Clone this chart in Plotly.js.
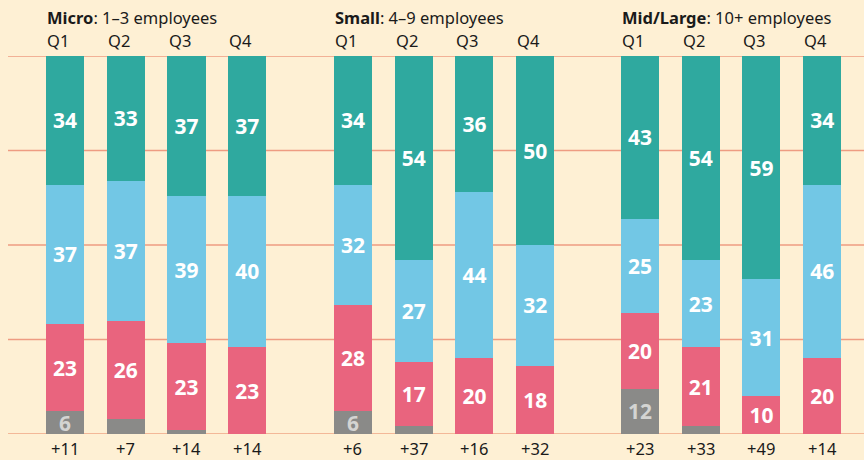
<!DOCTYPE html>
<html>
<head>
<meta charset="utf-8">
<script src="https://cdn.plot.ly/plotly-3.0.1.min.js"></script>
<style>
html,body{margin:0;padding:0;background:#fef0d4;}
#chart{width:864px;height:460px;}
</style>
</head>
<body>
<div id="chart"></div>
<script>
var quarters = ["Q1", "Q2", "Q3", "Q4"];
var groupNames = ["Micro", "Small", "Mid/Large"];
var groupSubtitles = ["1–3 employees", "4–9 employees", "10+ employees"];

// shares of firms, % (bottom to top)
var greyVals = [[6, 4, 1, 0], [6, 2, 0, 0], [12, 2, 0, 0]];
var redVals  = [[23, 26, 23, 23], [28, 17, 20, 18], [20, 21, 10, 20]];
var blueVals = [[37, 37, 39, 40], [32, 27, 44, 32], [25, 23, 31, 46]];
var tealVals = [[34, 33, 37, 37], [34, 54, 36, 50], [43, 54, 59, 34]];
var netBalance = [["+11", "+7", "+14", "+14"], ["+6", "+37", "+16", "+32"], ["+23", "+33", "+49", "+14"]];

var colors = {grey: "#8a8a88", red: "#e9647e", blue: "#72c7e5", teal: "#2fa99f"};
var FONT = "Noto Sans, Open Sans, sans-serif";
var domains = [[0.0311, 0.315], [0.3675, 0.6514], [0.7028, 0.9867]];

var traces = [];
var series = [
  {vals: greyVals, color: colors.grey, txt: "#d4d4d2", min: 5},
  {vals: redVals, color: colors.red, txt: "#ffffff", min: 5},
  {vals: blueVals, color: colors.blue, txt: "#ffffff", min: 5},
  {vals: tealVals, color: colors.teal, txt: "#ffffff", min: 5}
];
for (var g = 0; g < 3; g++) {
  var xa = g === 0 ? "x" : "x" + (g + 1);
  series.forEach(function (s) {
    traces.push({
      type: "bar",
      x: quarters,
      y: s.vals[g],
      xaxis: xa,
      yaxis: "y",
      marker: {color: s.color, line: {width: 0}},
      text: s.vals[g].map(function (v) { return v >= s.min ? String(v) : ""; }),
      textposition: "inside",
      insidetextanchor: "middle",
      constraintext: "none",
      textangle: 0,
      textfont: {family: FONT, size: 21, color: s.txt, weight: 700},
      hoverinfo: "skip",
      showlegend: false
    });
  });
}

var layout = {
  width: 864, height: 460,
  paper_bgcolor: "#fef0d4", plot_bgcolor: "rgba(0,0,0,0)",
  margin: {l: 8, r: 0, t: 56, b: 26},
  barmode: "stack",
  bargap: 0.374,
  showlegend: false,
  yaxis: {range: [0, 100], showgrid: false, zeroline: false, showticklabels: false, fixedrange: true},
  shapes: [],
  annotations: [],
  font: {family: FONT}
};
for (var g = 0; g < 3; g++) {
  var key = g === 0 ? "xaxis" : "xaxis" + (g + 1);
  layout[key] = {domain: domains[g], anchor: "y", type: "category", range: [-0.5, 3.5],
    showgrid: false, zeroline: false, showticklabels: false, showline: false, ticks: ""};
}
[25, 50, 75, 100].forEach(function (v) {
  layout.shapes.push({type: "line", xref: "paper", yref: "y", x0: 0, x1: 1, y0: v, y1: v,
    line: {color: "#ee9c82", width: 1.3}, layer: "below"});
});
layout.shapes.push({type: "line", xref: "paper", yref: "y", x0: 0, x1: 1, y0: 0, y1: 0,
  line: {color: "#f3b898", width: 2}, layer: "below"});

for (var g = 0; g < 3; g++) {
  var xr = g === 0 ? "x" : "x" + (g + 1);
  layout.annotations.push({
    xref: xr, yref: "paper", x: quarters[0], y: 1, xanchor: "left", yanchor: "middle",
    xshift: -20, yshift: 39, showarrow: false,
    text: "<b>" + groupNames[g] + "</b>: " + groupSubtitles[g],
    font: {family: FONT, size: 16.5, color: "#1a1a1a"}
  });
  quarters.forEach(function (q, i) {
    layout.annotations.push({
      xref: xr, yref: "paper", x: q, y: 1, xanchor: "left", yanchor: "middle",
      xshift: -20, yshift: 16, showarrow: false, text: q,
      font: {family: FONT, size: 16.5, color: "#1a1a1a"}
    });
    layout.annotations.push({
      xref: xr, yref: "paper", x: q, y: 0, xanchor: "center", yanchor: "middle",
      yshift: -14, showarrow: false, text: netBalance[g][i],
      font: {family: FONT, size: 16.5, color: "#1a1a1a"}
    });
  });
}

Plotly.newPlot("chart", traces, layout, {displayModeBar: false, staticPlot: true});
</script>
</body>
</html>
